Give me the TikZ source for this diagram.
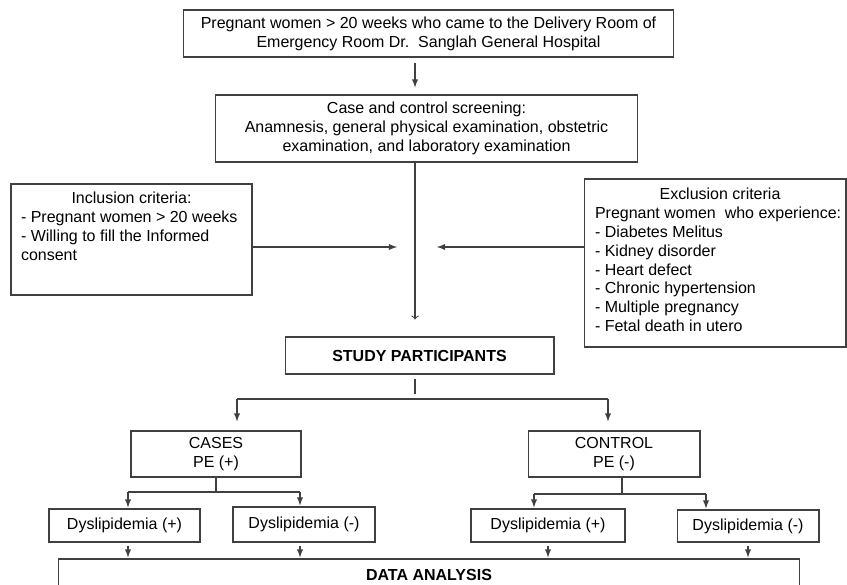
\documentclass[tikz,border=0pt]{standalone}
\usepackage{fontspec}
\setmainfont{Liberation Sans}
\usepackage{tikz}
\usetikzlibrary{arrows}
\tikzstyle{box} = [draw=black!75,line width=0.6pt,inner sep=0pt]
\tikzstyle{block} = [box,align=center]
\tikzstyle{crit} = [box]
\tikzstyle{link} = [draw=black!75,line width=0.6pt]
\tikzstyle{arr} = [link,-latex]
\tikzstyle{openarr} = [link,-to]

\begin{document}
\begin{tikzpicture}[x=0.02cm,y=-0.02cm,font=\fontsize{9.1pt}{10.8pt}\selectfont]
    \useasboundingbox (0,0) rectangle (847,584);
    \node[block,minimum width=9.82cm,minimum height=0.94cm] (women) at (428.5,33.5) {Pregnant women > 20 weeks who came to the Delivery Room of\\Emergency Room Dr.\ \ Sanglah General Hospital};
    \node[block,minimum width=8.46cm,minimum height=1.34cm] (screen) at (426.5,128.5) {Case and control screening:\\Anamnesis, general physical examination, obstetric\\examination, and laboratory examination};
    \node[crit,minimum width=4.82cm,minimum height=2.22cm] (incl) at (131.5,239.5) {\begin{minipage}[c][1.9cm][t]{4.42cm}\raggedright\centerline{Inclusion criteria:}- Pregnant women > 20 weeks\\- Willing to fill the Informed\\consent\end{minipage}};
    \node[crit,minimum width=5.24cm,minimum height=3.36cm] (excl) at (715,263) {\begin{minipage}[c][3.02cm][t]{4.8cm}\raggedright\centerline{\hspace{0.2cm}Exclusion criteria}\mbox{Pregnant women\ \ who experience:}\\- Diabetes Melitus\\- Kidney disorder\\- Heart defect\\- Chronic hypertension\\- Multiple pregnancy\\- Fetal death in utero\end{minipage}};
    \node[block,minimum width=5.38cm,minimum height=0.74cm] (part) at (419.5,355.5) {\bfseries STUDY PARTICIPANTS};
    \node[block,minimum width=3.4cm,minimum height=0.92cm] (cases) at (216,454) {CASES\\PE (+)};
    \node[block,minimum width=3.44cm,minimum height=0.92cm] (control) at (614,454) {CONTROL\\PE (-)};
    \node[block,minimum width=3.02cm,minimum height=0.66cm] (dyspa) at (124.5,525.5) {Dyslipidemia (+)};
    \node[block,minimum width=2.84cm,minimum height=0.70cm] (dysna) at (304,524.5) {Dyslipidemia (-)};
    \node[block,minimum width=3.08cm,minimum height=0.66cm] (dyspb) at (548,525.5) {Dyslipidemia (+)};
    \node[block,minimum width=2.84cm,minimum height=0.64cm] (dysnb) at (748,526) {Dyslipidemia (-)};
    \node[block,minimum width=14.84cm,minimum height=0.64cm] (analysis) at (429,575) {\bfseries DATA ANALYSIS};

    \coordinate (spine) at (415,247);
    \coordinate (splitl) at (237,399);
    \coordinate (splitr) at (608,399);
    \coordinate (casel) at (128,492);
    \coordinate (caser) at (300,492);
    \coordinate (ctrlm) at (622,494);
    \coordinate (ctrll) at (534,494);
    \coordinate (ctrlr) at (706,494);

    \path[arr,shorten <=0.1cm,shorten >=0.14cm] (women.south -| spine) -- (screen.north -| spine);
    \path[openarr,shorten >=0.34cm] (screen.south -| spine) -- (part.north -| spine);
    \path[arr,shorten >=0.36cm] (incl.east |- spine) -- (spine);
    \path[arr,shorten >=0.44cm] (excl.west |- spine) -- (spine);
    \path[link,shorten <=0.08cm,shorten >=0.1cm] (part.south -| spine) -- (spine |- splitl);
    \path[link] (splitl) -- (splitr);
    \path[arr,shorten >=0.18cm] (splitl) -- (splitl |- cases.north);
    \path[arr,shorten >=0.18cm] (splitr) -- (splitr |- control.north);
    \path[link] (cases.south) -- (cases.south |- casel);
    \path[link] (casel) -- (caser);
    \path[link] (ctrlm |- control.south) -- (ctrlm);
    \path[link] (ctrll) -- (ctrlr);
    \foreach \c/\b in {casel/dyspa,caser/dysna,ctrll/dyspb,ctrlr/dysnb} {
        \path[arr,shorten >=0.02cm] (\c) -- (\c |- \b.north);
    }
    \foreach \c/\b in {casel/dyspa,caser/dysna,dyspb/dyspb,dysnb/dysnb} {
        \path[arr,shorten <=0.06cm,shorten >=0.02cm] (\c |- \b.south) -- (\c |- analysis.north);
    }
\end{tikzpicture}
\end{document}
